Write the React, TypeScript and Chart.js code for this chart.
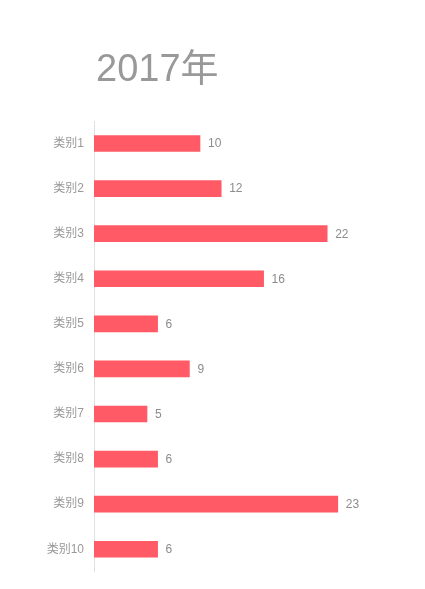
import React, { useEffect, useRef } from "react";
import { Chart, registerables } from "chart.js";

Chart.register(...registerables);

const titleText = "2017年";
const categories = ["类别1", "类别2", "类别3", "类别4", "类别5", "类别6", "类别7", "类别8", "类别9", "类别10"];
const values = [10, 12, 22, 16, 6, 9, 5, 6, 23, 6];

const FONT = "'Liberation Sans', Arial, 'Noto Sans CJK SC', sans-serif";

const valueLabels = {
  id: "valueLabels",
  afterDatasetsDraw(chart: any) {
    const ctx = chart.ctx;
    const meta = chart.getDatasetMeta(0);
    ctx.save();
    ctx.font = `12px ${FONT}`;
    ctx.fillStyle = "#8c8c8c";
    ctx.textAlign = "left";
    ctx.textBaseline = "middle";
    meta.data.forEach((bar: any, i: number) => {
      ctx.fillText(String(values[i]), bar.x + 8, bar.y + 0.5);
    });
    ctx.restore();
  },
};

const titleDraw = {
  id: "titleDraw",
  afterDraw(chart: any) {
    const ctx = chart.ctx;
    ctx.save();
    ctx.font = `38px ${FONT}`;
    ctx.fillStyle = "#999999";
    ctx.textAlign = "left";
    ctx.textBaseline = "alphabetic";
    ctx.fillText(titleText, chart.chartArea.left + 2, 81);
    ctx.restore();
  },
};

export default function App() {
  const ref = useRef<HTMLCanvasElement>(null);
  useEffect(() => {
    if (!ref.current) return;
    const chart = new Chart(ref.current, {
      type: "bar",
      data: {
        labels: categories,
        datasets: [
          {
            data: values,
            backgroundColor: "#FF5A65",
            barThickness: 16,
          },
        ],
      },
      options: {
        indexAxis: "y",
        animation: false,
        responsive: false,
        maintainAspectRatio: false,
        layout: { padding: { left: 0, right: 66, top: 121, bottom: 17 } },
        plugins: {
          legend: { display: false },
          tooltip: { enabled: false },
          title: { display: false },
        },
        scales: {
          x: { display: false, min: 0, max: 25 },
          y: {
            grid: { display: false, drawTicks: false },
            border: { display: true, color: "#e0e0e0", width: 1 },
            ticks: {
              color: "#999999",
              font: { size: 12, family: FONT },
              padding: 10,
            },
            afterFit(scale: any) {
              scale.width = 94;
            },
          },
        },
      },
      plugins: [valueLabels, titleDraw],
    });
    return () => chart.destroy();
  }, []);
  return (
    <div style={{ position: "fixed", left: 0, top: 0, width: 425, height: 589, background: "#fff" }}>
      <canvas ref={ref} width={425} height={589} style={{ display: "block" }} />
    </div>
  );
}
